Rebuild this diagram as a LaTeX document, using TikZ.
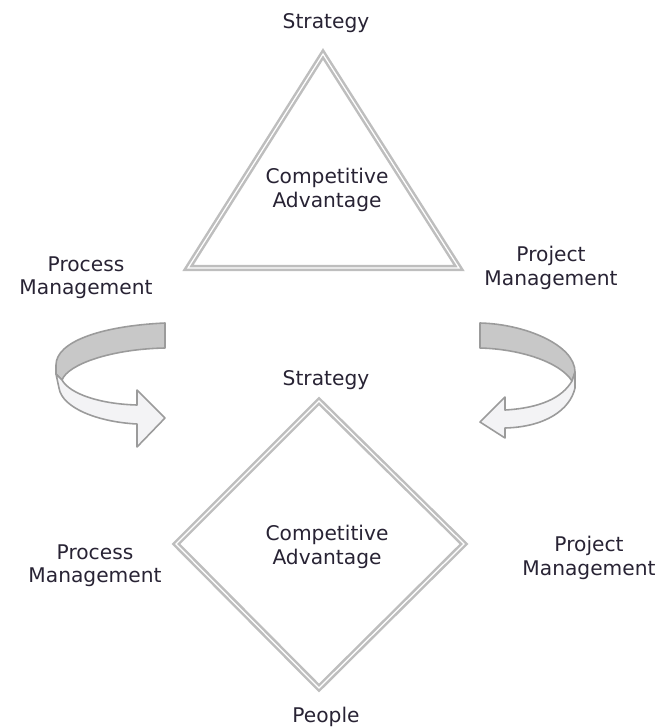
\documentclass[tikz,border=0pt]{standalone}
\usepackage{fontspec}
\setmainfont{DejaVu Sans}
\usetikzlibrary{positioning}
\definecolor{labelink}{RGB}{40,35,52}
\definecolor{frameline}{RGB}{190,190,190}
\definecolor{bandback}{RGB}{200,200,200}
\definecolor{bandfront}{RGB}{243,243,245}
\definecolor{bandedge}{RGB}{155,155,155}

\begin{document}
\begin{tikzpicture}[x=0.02cm,y=-0.02cm]
\useasboundingbox (0,0) rectangle (670,727);
\begin{scope}[every node/.style={text=labelink,font=\fontsize{11.5}{13.2}\selectfont,align=center,inner sep=0pt}]
    \node[anchor=base] (strat1) at (326,28) {Strategy};
    \node (comp1) at (327,190) {Competitive\\Advantage};
    \node (proc1) at (86,278) {Process\\Management};
    \node (proj1) at (551,268) {Project\\Management};
    \node[anchor=base] (strat2) at (326,385) {Strategy};
    \node (comp2) at (327,547) {Competitive\\Advantage};
    \node (proc2) at (95,566) {Process\\Management};
    \node (proj2) at (589,558) {Project\\Management};
    \node[anchor=base] (people) at (326,722) {People};
\end{scope}
\begin{scope}[frame/.style={draw=frameline,line width=1.45pt,double=white,double distance=0.7pt},
              band/.style={draw=bandedge,line width=0.9pt,line join=round}]
    \coordinate (apex) at (323,54);
    \coordinate (tleft) at (188,268);
    \coordinate (tright) at (459,268);
    \draw[frame] (apex) -- (tleft) -- (tright) -- cycle;
    \coordinate (dtop) at (319,401);
    \coordinate (dleft) at (176,544);
    \coordinate (dbottom) at (319,688);
    \coordinate (dright) at (464,544);
    \draw[frame] (dtop) -- (dleft) -- (dbottom) -- (dright) -- cycle;
    \draw[band,fill=bandback] (165,323) .. controls (100,326) and (56,342) .. (56,365)
        -- (56,374) -- (62,380) .. controls (68,364) and (112,349) .. (165,348) -- cycle;
    \draw[band,fill=bandfront] (62,380) .. controls (70,394) and (100,404) .. (137,405)
        -- (137,390) -- (165,418) -- (137,447) -- (137,424)
        .. controls (98,422) and (62,408) .. (59,388) -- (56,374) -- cycle;
    \draw[band,fill=bandback] (480,323) .. controls (525,324) and (575,345) .. (575,372)
        -- (572,381) .. controls (560,362) and (520,349) .. (480,348) -- cycle;
    \draw[band,fill=bandfront] (572,381) .. controls (562,398) and (540,408) .. (505,410)
        -- (505,397) -- (480,422) -- (505,438) -- (505,428)
        .. controls (545,427) and (570,410) .. (575,388) -- (575,372) -- cycle;
\end{scope}
\end{tikzpicture}
\end{document}
